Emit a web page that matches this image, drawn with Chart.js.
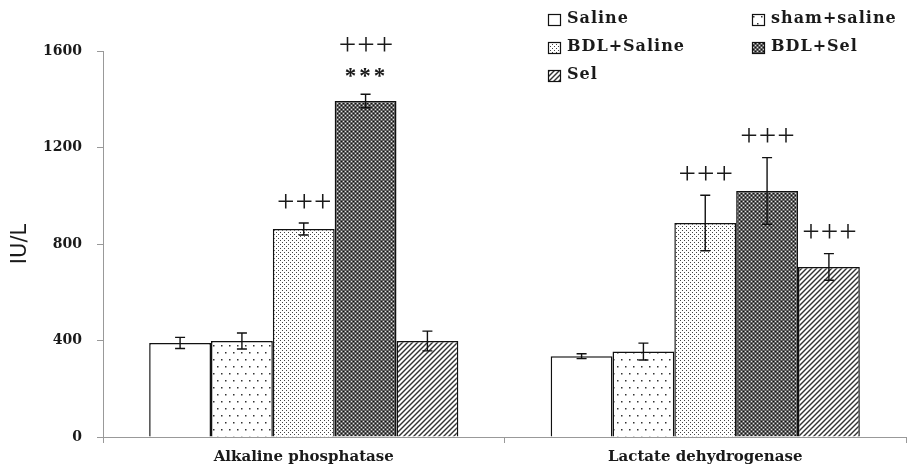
<!DOCTYPE html>
<html>
<head>
<meta charset="utf-8">
<script src="https://cdn.jsdelivr.net/npm/chart.js@4.4.1/dist/chart.umd.min.js"></script>
<style>
  html,body{margin:0;padding:0;background:#fff}
  #wrap{width:907px;height:471px}
</style>
</head>
<body>
<div id="wrap"><canvas id="c" width="907" height="471"></canvas></div>
<script>
const groups = ['Alkaline phosphatase', 'Lactate dehydrogenase'];
const seriesNames = ['Saline', 'sham+saline', 'BDL+Saline', 'BDL+Sel', 'Sel'];

const saline    = [390, 335];
const sham      = [398, 354];
const bdlSaline = [862, 887];
const bdlSel    = [1393, 1020];
const sel       = [398, 705];

const salineErr    = [23, 10];
const shamErr      = [33, 35];
const bdlSalineErr = [25, 115];
const bdlSelErr    = [28, 138];
const selErr       = [41, 55];

// marks right above the error bar, and a second row above that
const marksNear = [['', ''], ['', ''], ['+++', '+++'], ['***', '+++'], ['', '+++']];
const marksFar  = [['', ''], ['', ''], ['', ''], ['+++', ''], ['', '']];

const yTicks = [0, 400, 800, 1200, 1600];

function q(id){return document.getElementById(id)}

function makePattern(kind){
  const c = document.createElement('canvas');
  const x = c.getContext('2d');
  if(kind === 'plain'){
    c.width = 4; c.height = 4;
    x.fillStyle = '#fff'; x.fillRect(0,0,4,4);
  } else if(kind === 'sparse'){
    c.width = 8; c.height = 14;
    x.fillStyle = '#fff'; x.fillRect(0,0,8,14);
    x.fillStyle = '#333';
    x.fillRect(1,2,1.5,1.5); x.fillRect(5,9,1.5,1.5);
  } else if(kind === 'dense'){
    c.width = 4; c.height = 4;
    x.fillStyle = '#fff'; x.fillRect(0,0,4,4);
    x.fillStyle = '#444';
    x.fillRect(0,0,1,1); x.fillRect(2,2,1,1);
  } else if(kind === 'dark'){
    c.width = 4; c.height = 4;
    x.fillStyle = '#606060'; x.fillRect(0,0,4,4);
    x.fillStyle = '#111';
    x.fillRect(1,1,1,1); x.fillRect(3,3,1,1);
    x.fillStyle = '#e0e0e0';
    x.fillRect(3,1,1,1); x.fillRect(1,3,1,1);
  } else if(kind === 'hatch'){
    c.width = 5; c.height = 5;
    x.fillStyle = '#fff'; x.fillRect(0,0,5,5);
    x.strokeStyle = '#333'; x.lineWidth = 1.4;
    for(let k=-1;k<=1;k++){
      x.beginPath(); x.moveTo(k*5-1, 6); x.lineTo(k*5+6, -1); x.stroke();
    }
  }
  return x.createPattern(c, 'repeat');
}

const fills = ['plain','sparse','dense','dark','hatch'].map(makePattern);
const values = [saline, sham, bdlSaline, bdlSel, sel];
const errs = [salineErr, shamErr, bdlSalineErr, bdlSelErr, selErr];

const serif = "'DejaVu Serif', serif";
const ink = '#1a1a1a';

const errorBars = {
  id: 'errorBars',
  afterDatasetsDraw(chart){
    const ctx = chart.ctx, y = chart.scales.y;
    ctx.save();
    ctx.strokeStyle = '#111'; ctx.lineWidth = 1.4;
    chart.data.datasets.forEach((ds, i)=>{
      chart.getDatasetMeta(i).data.forEach((bar, j)=>{
        const v = ds.data[j], e = errs[i][j];
        const top = y.getPixelForValue(v + e), bot = y.getPixelForValue(v - e);
        ctx.beginPath();
        ctx.moveTo(bar.x, top); ctx.lineTo(bar.x, bot);
        ctx.moveTo(bar.x-5, top); ctx.lineTo(bar.x+5, top);
        ctx.moveTo(bar.x-5, bot); ctx.lineTo(bar.x+5, bot);
        ctx.stroke();

        // significance marks
        const rows = [marksNear[i][j], marksFar[i][j]];
        rows.forEach((txt, r)=>{
          if(!txt) return;
          const star = txt.indexOf('*') >= 0;
          ctx.font = star ? "bold 23px 'Liberation Serif', serif" : "31px 'Liberation Serif', serif";
          ctx.letterSpacing = star ? '3px' : '1px';
          ctx.fillStyle = ink;
          ctx.textAlign = 'center';
          ctx.textBaseline = 'alphabetic';
          const m = ctx.measureText(txt);
          const cy = top - 22 - r*28;
          const base = cy + (m.actualBoundingBoxAscent - m.actualBoundingBoxDescent)/2;
          ctx.fillText(txt, bar.x + 1, base);
        });
      });
    });
    ctx.restore();
  }
};

const legendBoxes = {
  id: 'legendBoxes',
  afterDraw(chart){
    const ctx = chart.ctx;
    const spots = [[548,19],[752,19],[548,47],[752,47],[548,75]];
    ctx.save();
    chart.data.datasets.forEach((ds, i)=>{
      const [bx, cy] = spots[i];
      ctx.fillStyle = ds.backgroundColor;
      ctx.fillRect(bx, cy-5, 12, 11);
      ctx.strokeStyle = '#111'; ctx.lineWidth = 1.2;
      ctx.strokeRect(bx+0.5, cy-5+0.5, 12, 11);
      ctx.font = 'bold 16px ' + serif;
      ctx.letterSpacing = '1px';
      ctx.fillStyle = ink;
      ctx.textAlign = 'left';
      ctx.textBaseline = 'middle';
      ctx.fillText(ds.label, bx + 19, cy);
    });
    ctx.restore();
  }
};

const datasets = seriesNames.map((name, i)=>({
  label: name,
  data: values[i],
  backgroundColor: fills[i],
  borderColor: '#111',
  borderWidth: 1.5,
  categoryPercentage: 0.77,
  barPercentage: 1.0
}));

new Chart(q('c').getContext('2d'), {
  type: 'bar',
  data: { labels: groups, datasets },
  options: {
    responsive: false,
    animation: false,
    layout: { padding: { top: 51, right: 1, bottom: 0, left: 0 } },
    plugins: { legend: { display: false }, tooltip: { enabled: false } },
    scales: {
      x: {
        grid: { drawOnChartArea: false, tickLength: 6, color: '#999', offset: true },
        border: { color: '#999', width: 1 },
        ticks: { color: ink, font: { family: serif, size: 15, weight: 'bold' }, padding: 5 },
        afterFit(s){ s.height = 34; }
      },
      y: {
        min: 0, max: 1600,
        afterBuildTicks(s){ s.ticks = yTicks.map(v=>({value: v})); },
        grid: { drawOnChartArea: false, tickLength: 6, color: '#999' },
        border: { color: '#999', width: 1 },
        ticks: { color: ink, font: { family: serif, size: 14, weight: 'bold' }, padding: 15, callback: v => String(v) },
        title: { display: true, text: 'IU/L', color: ink, font: { family: "'DejaVu Sans', sans-serif", size: 21 }, padding: { top: 8, bottom: 0 } },
        afterFit(s){ s.width = 103; }
      }
    }
  },
  plugins: [errorBars, legendBoxes]
});
</script>
</body>
</html>
